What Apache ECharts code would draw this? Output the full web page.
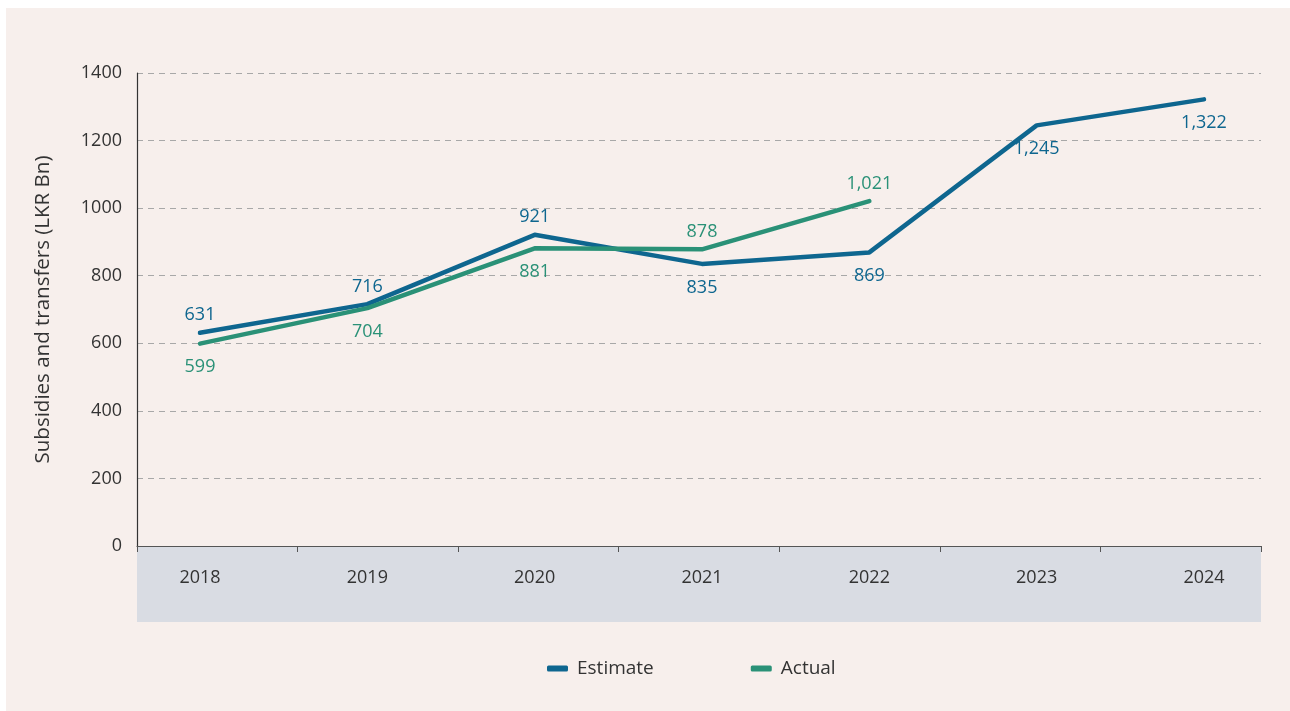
<!DOCTYPE html>
<html>
<head>
<meta charset="utf-8">
<script src="https://cdn.jsdelivr.net/npm/echarts@6/dist/echarts.min.js"></script>
<style>
html,body{margin:0;padding:0;background:#ffffff;}
#wrap{position:relative;width:1290px;height:711px;background:#ffffff;overflow:hidden;}
#chart{position:absolute;left:6px;top:8px;width:1284px;height:703px;background:#f7efec;}
</style>
</head>
<body>
<div id="wrap"><div id="chart"></div></div>
<script>
const categories = ['2018','2019','2020','2021','2022','2023','2024'];
const estimate = [631, 716, 921, 835, 869, 1245, 1322];
const actual = [599, 704, 881, 878, 1021];
const yTicks = [0, 200, 400, 600, 800, 1000, 1200, 1400];

const FONT = "'Open Sans', 'Noto Sans', sans-serif";
const TXT = '#333333';
const C_EST = '#0e668f';
const C_ACT = '#2a9177';

const estPos = ['top','top','top','bottom','bottom','bottom','bottom'];
const actPos = ['bottom','bottom','bottom','top','top'];
const DIST = { top: 8, bottom: 14 };

function fmt(v){ return Number(v).toLocaleString('en-US'); }

const chart = echarts.init(document.getElementById('chart'), null, {renderer:'canvas'});
const option = {
  backgroundColor: '#f7efec',
  animation: false,
  textStyle: { fontFamily: FONT },
  graphic: [{
    type: 'rect', z: -1, silent: true,
    shape: { x: 131, y: 539, width: 1124, height: 75 },
    style: { fill: '#d9dce3' }
  }],
  legend: {
    top: 646, left: 536, itemGap: 97,
    icon: 'roundRect', itemWidth: 21, itemHeight: 6,
    textStyle: { fontFamily: FONT, fontSize: 19, color: TXT, padding: [0,0,0,4] },
    data: ['Estimate','Actual']
  },
  grid: [
    { left: 131, right: 29, top: 65, bottom: 165, containLabel: false },
    { left: 194, right: 86, top: 65, bottom: 165, containLabel: false }
  ],
  xAxis: [
    {
      type: 'category', gridIndex: 0, data: categories, boundaryGap: true,
      axisLine: { show: true, lineStyle: { color: '#555555', width: 1.2 } },
      axisTick: { show: true, length: 6, lineStyle: { color: '#555555' } },
      axisLabel: { show: false }
    },
    {
      type: 'category', gridIndex: 1, data: categories, boundaryGap: false,
      axisLine: { show: false }, axisTick: { show: false },
      axisLabel: { show: true, margin: 23, fontFamily: FONT, fontSize: 18, color: TXT }
    }
  ],
  yAxis: [
    {
      type: 'value', gridIndex: 0, min: yTicks[0], max: yTicks[yTicks.length-1], interval: 200,
      name: 'Subsidies and transfers (LKR Bn)', nameLocation: 'middle', nameGap: 83,
      nameTextStyle: { fontFamily: FONT, fontSize: 20.5, color: TXT },
      axisLine: { show: true, lineStyle: { color: '#333333', width: 1.2 } },
      axisTick: { show: false },
      axisLabel: { margin: 15, fontFamily: FONT, fontSize: 18, color: TXT, formatter: v => String(v) },
      splitLine: { show: true, lineStyle: { color: '#a8a8a8', type: [6,5], width: 1 } }
    },
    {
      type: 'value', gridIndex: 1, min: yTicks[0], max: yTicks[yTicks.length-1], interval: 200,
      show: false, splitLine: { show: false }
    }
  ],
  series: [
    {
      name: 'Estimate', type: 'line', xAxisIndex: 1, yAxisIndex: 1,
      data: estimate.map((v,i)=>({ value: v, label: { position: estPos[i], distance: DIST[estPos[i]] } })),
      color: C_EST,
      lineStyle: { width: 4.5, color: C_EST, cap: 'round', join: 'round' },
      symbol: 'circle', symbolSize: 1, showSymbol: true,
      itemStyle: { color: C_EST },
      label: { show: true, fontFamily: FONT, fontSize: 18, color: C_EST, formatter: p => fmt(p.value) },
      z: 3
    },
    {
      name: 'Actual', type: 'line', xAxisIndex: 1, yAxisIndex: 1,
      data: actual.map((v,i)=>({ value: v, label: { position: actPos[i], distance: DIST[actPos[i]] } })),
      color: C_ACT,
      lineStyle: { width: 4.5, color: C_ACT, cap: 'round', join: 'round' },
      symbol: 'circle', symbolSize: 1, showSymbol: true,
      itemStyle: { color: C_ACT },
      label: { show: true, fontFamily: FONT, fontSize: 18, color: C_ACT, formatter: p => fmt(p.value) },
      z: 4
    }
  ]
};
chart.setOption(option);
</script>
</body>
</html>
